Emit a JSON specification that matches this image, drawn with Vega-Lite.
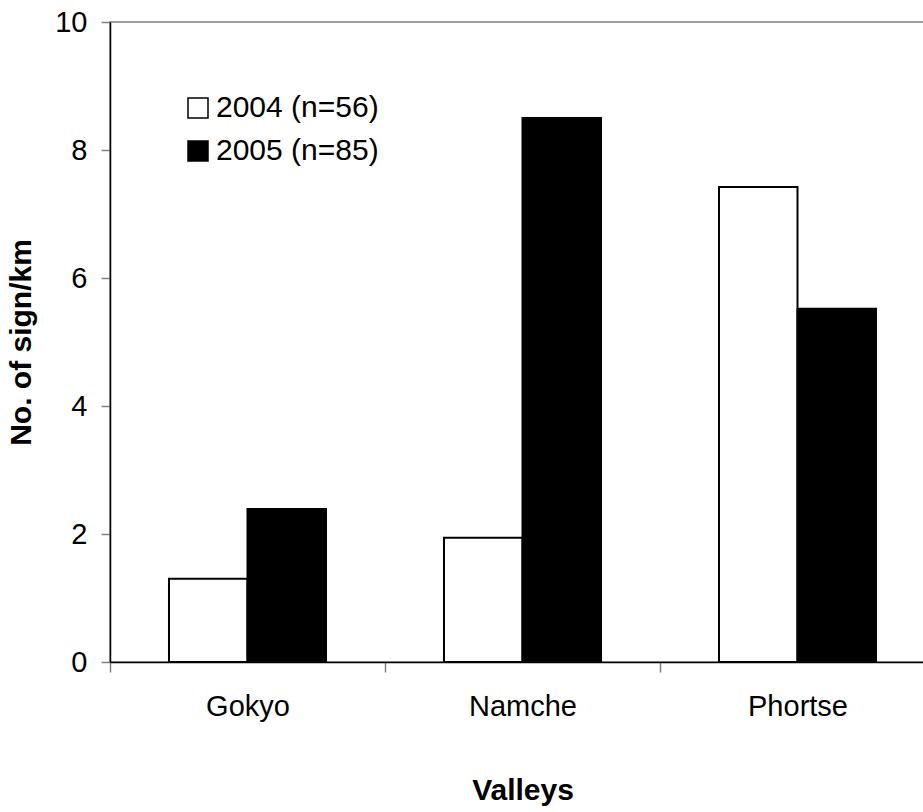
{
  "$schema": "https://vega.github.io/schema/vega-lite/v6.json",
  "width": 825,
  "height": 640,
  "autosize": {"type": "none"},
  "padding": {"left": 110, "top": 22, "right": 0, "bottom": 150},
  "background": "white",
  "config": {
    "font": "Liberation Sans",
    "view": {"stroke": "#808080", "strokeWidth": 1.5}
  },
  "data": {
    "values": [
      {"valley": "Gokyo", "year": "2004 (n=56)", "value": 1.3},
      {"valley": "Gokyo", "year": "2005 (n=85)", "value": 2.39},
      {"valley": "Namche", "year": "2004 (n=56)", "value": 1.94},
      {"valley": "Namche", "year": "2005 (n=85)", "value": 8.5},
      {"valley": "Phortse", "year": "2004 (n=56)", "value": 7.42},
      {"valley": "Phortse", "year": "2005 (n=85)", "value": 5.52}
    ]
  },
  "mark": {"type": "bar", "stroke": "black", "strokeWidth": 2},
  "encoding": {
    "x": {
      "field": "valley",
      "type": "nominal",
      "sort": null,
      "scale": {"paddingInner": 0.429, "paddingOuter": 0.2145},
      "axis": {
        "title": "Valleys",
        "labelAngle": 0,
        "labelFontSize": 29,
        "labelColor": "black",
        "titleFontSize": 30,
        "titleFontWeight": "bold",
        "titleColor": "black",
        "domainColor": "black",
        "domainWidth": 1.5,
        "tickColor": "#808080",
        "tickWidth": 1.5,
        "tickSize": 10,
        "tickOffset": -137.5,
        "labelOffset": 137.5,
        "labelPadding": 20,
        "titlePadding": 54
      }
    },
    "xOffset": {
      "field": "year",
      "type": "nominal",
      "scale": {"paddingInner": 0, "paddingOuter": 0}
    },
    "y": {
      "field": "value",
      "type": "quantitative",
      "scale": {"domain": [0, 10]},
      "axis": {
        "title": "No. of sign/km",
        "values": [0, 2, 4, 6, 8, 10],
        "grid": false,
        "labelFontSize": 29,
        "labelColor": "black",
        "titleFontSize": 30,
        "titleFontWeight": "bold",
        "titleColor": "black",
        "domainColor": "black",
        "domainWidth": 1.5,
        "tickColor": "#808080",
        "tickWidth": 1.5,
        "tickSize": 9,
        "labelPadding": 14,
        "titlePadding": 18
      }
    },
    "fill": {
      "field": "year",
      "type": "nominal",
      "scale": {"range": ["white", "black"]},
      "legend": {
        "orient": "none",
        "legendX": 73,
        "legendY": 71,
        "title": null,
        "symbolType": "square",
        "symbolSize": 400,
        "symbolStrokeColor": "black",
        "symbolStrokeWidth": 1.5,
        "labelFontSize": 30,
        "labelLimit": 400,
        "labelColor": "black",
        "labelOffset": 3,
        "rowPadding": 13,
        "padding": 0
      }
    }
  }
}
